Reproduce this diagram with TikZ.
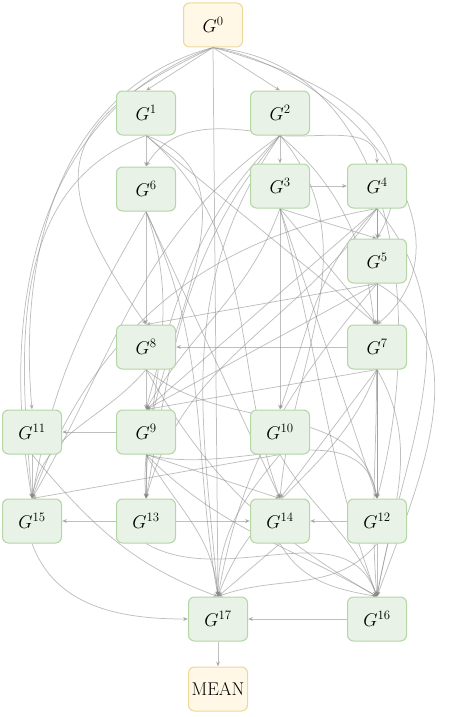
\documentclass[tikz,border=0pt]{standalone}
\usepackage{graphicx}
\usetikzlibrary{arrows.meta,backgrounds}
\definecolor{gfill}{HTML}{E9F2E7}
\definecolor{gdraw}{HTML}{B3D6A4}
\definecolor{yfill}{HTML}{FFF8E6}
\definecolor{ydraw}{HTML}{EDD799}
\definecolor{ecol}{HTML}{8A8A8A}
\newcommand{\nlab}[1]{\scalebox{0.89}{\huge #1}}
\tikzset{
  gbox/.style={draw=gdraw,fill=gfill,line width=1pt,rounded corners=6pt,minimum width=59pt,minimum height=44pt,inner sep=0pt},
  ybox/.style={gbox,draw=ydraw,fill=yfill},
  e/.style={draw=ecol,line width=0.75pt,opacity=0.55,-{Stealth[length=5pt,width=4pt]}},
}
\begin{document}
\begin{tikzpicture}[x=1pt,y=1pt]
\useasboundingbox (0,0) rectangle (457,-717);
\node[ybox] (g0) at (213,-25) {\nlab{$G^{0}$}};
\node[gbox] (g1) at (146,-113) {\nlab{$G^{1}$}};
\node[gbox] (g2) at (280,-113) {\nlab{$G^{2}$}};
\node[gbox] (g6) at (146,-189) {\nlab{$G^{6}$}};
\node[gbox] (g3) at (280,-186) {\nlab{$G^{3}$}};
\node[gbox] (g4) at (377,-186) {\nlab{$G^{4}$}};
\node[gbox] (g5) at (377,-261) {\nlab{$G^{5}$}};
\node[gbox] (g8) at (146,-347) {\nlab{$G^{8}$}};
\node[gbox] (g7) at (377,-347) {\nlab{$G^{7}$}};
\node[gbox] (g11) at (32,-432) {\nlab{$G^{11}$}};
\node[gbox] (g9) at (146,-432) {\nlab{$G^{9}$}};
\node[gbox] (g10) at (280,-432) {\nlab{$G^{10}$}};
\node[gbox] (g15) at (32,-521) {\nlab{$G^{15}$}};
\node[gbox] (g13) at (146,-521) {\nlab{$G^{13}$}};
\node[gbox] (g14) at (280,-521) {\nlab{$G^{14}$}};
\node[gbox] (g12) at (377,-521) {\nlab{$G^{12}$}};
\node[gbox] (g17) at (218,-619) {\nlab{$G^{17}$}};
\node[gbox] (g16) at (377,-619) {\nlab{$G^{16}$}};
\node[ybox] (mean) at (218,-689) {\nlab{MEAN}};
\begin{pgfonlayer}{background}
% G0
\draw[e] (g0.south) -- (g1.north);
\draw[e] (g0.south) -- (g2.north);
\draw[e] (g0.south) -- (g17.north);
\draw[e] (g0.south) to[out=195,in=95] (g11.north);
\draw[e] (g0.south) to[out=200,in=100] (g15.north);
\draw[e] (g0.south) to[out=205,in=125,looseness=1.6] (g8.north);
\draw[e] (g0.south) to[out=-15,in=60,looseness=1.2] (g5.north);
\draw[e] (g0.south) to[out=-10,in=40,looseness=1.1] (g7.north);
\draw[e] (g0.south) to[out=-5,in=75] (g12.north);
% G1
\draw[e] (g1.south) -- (g6.north);
\draw[e] (g1.south) -- (g7.north);
\draw[e] (g1.south) to[out=-40,in=110] (g14.north);
\draw[e] (g1.south) to[out=200,in=95] (g15.north);
\draw[e] (g1.south) to[out=-20,in=95] (g13.north);
% G2
\draw[e] (g2.south) -- (g3.north);
\draw[e] (g2.south) to[out=-5,in=90] (g4.north);
\draw[e] (g2.south) to[out=170,in=60] (g6.north);
\draw[e] (g2.south) to[out=225,in=75] (g9.north);
\draw[e] (g2.south) to[out=230,in=80] (g13.north);
\draw[e] (g2.south) to[out=215,in=60] (g15.north);
\draw[e] (g2.south) to[out=-40,in=95] (g16.north);
\draw[e] (g2.south) to[out=-50,in=85] (g14.north);
\draw[e] (g2.south) to[out=235,in=95] (g17.north);
% G3
\draw[e] (g3.east) -- (g4.west);
\draw[e] (g3.south) -- (g5.north);
\draw[e] (g3.south) -- (g7.north);
\draw[e] (g3.south) -- (g10.north);
\draw[e] (g3.south) -- (g12.north);
\draw[e] (g3.south) to[out=-75,in=110] (g16.north);
\draw[e] (g3.south) to[out=250,in=60] (g9.north);
% G4
\draw[e] (g4.south) -- (g5.north);
\draw[e] (g4.south) to[out=190,in=70] (g15.north);
\draw[e] (g4.south) -- (g9.north);
\draw[e] (g4.south) -- (g12.north);
\draw[e] (g4.south) to[out=-50,in=80] (g16.north);
\draw[e] (g4.south) to[out=235,in=75] (g13.north);
\draw[e] (g4.south) to[out=225,in=70] (g10.north);
% G5
\draw[e] (g5.south) -- (g7.north);
\draw[e] (g5.south) -- (g8.north);
\draw[e] (g5.south) -- (g9.north);
\draw[e] (g5.south) to[out=230,in=80] (g17.north);
\draw[e] (g5.south) to[out=-30,in=70] (g16.north);
% G6
\draw[e] (g6.south) -- (g8.north);
\draw[e] (g6.south) to[out=240,in=80] (g15.north);
\draw[e] (g6.south) to[out=-70,in=90] (g13.north);
\draw[e] (g6.south) -- (g14.north);
\draw[e] (g6.south) to[out=-65,in=100] (g17.north);
% G7
\draw[e] (g7.west) -- (g8.east);
\draw[e] (g7.south) -- (g12.north);
\draw[e] (g7.south) -- (g14.north);
\draw[e] (g7.south) to[out=-60,in=80] (g16.north);
\draw[e] (g7.south) -- (g9.north);
\draw[e] (g7.south) to[out=250,in=70] (g17.north);
% G8
\draw[e] (g8.south) -- (g9.north);
\draw[e] (g8.south) to[out=230,in=80] (g15.north);
\draw[e] (g8.south) to[out=-60,in=150] (g16.north);
\draw[e] (g8.south) to[out=-40,in=100] (g12.north);
% G9
\draw[e] (g9.west) -- (g11.east);
\draw[e] (g9.south) -- (g13.north);
\draw[e] (g9.south) -- (g14.north);
\draw[e] (g9.south) to[out=-15,in=100] (g12.north);
\draw[e] (g9.south) to[out=-60,in=95] (g17.north);
\draw[e] (g9.south) to[out=-45,in=150] (g16.north);
% G10
\draw[e] (g10.south) -- (g15.north);
\draw[e] (g10.south) to[out=-60,in=110] (g16.north);
\draw[e] (g10.south) to[out=230,in=90] (g17.north);
% G11
\draw[e] (g11.south) -- (g15.north);
\draw[e] (g11.south) to[out=-50,in=160] (g17.north);
% G12
\draw[e] (g12.west) -- (g14.east);
\draw[e] (g12.south) -- (g16.north);
\draw[e] (g12.south) to[out=230,in=20] (g17.north);
% G13
\draw[e] (g13.west) -- (g15.east);
\draw[e] (g13.east) -- (g14.west);
\draw[e] (g13.south) to[out=-30,in=110] (g16.north);
% G14
\draw[e] (g14.south) -- (g17.north);
\draw[e] (g14.south) to[out=-60,in=170] (g16.north);
% G15, G16, G17
\draw[e] (g15.south) to[out=-70,in=180] (g17.west);
\draw[e] (g16.west) -- (g17.east);
\draw[e] (g17.south) -- (mean.north);
\end{pgfonlayer}
\end{tikzpicture}
\end{document}
